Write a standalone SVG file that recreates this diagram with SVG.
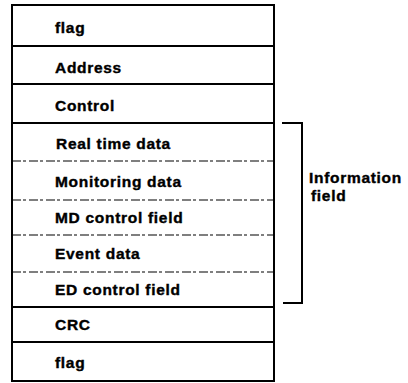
<svg xmlns="http://www.w3.org/2000/svg" width="408" height="383" viewBox="0 0 408 383">
  <style>
    .lbl { font-family: "Liberation Sans", Arial, sans-serif; font-weight: bold; font-size: 15.5px; letter-spacing: 0.7px; fill: #000; stroke: #000; stroke-width: 0.4; }
    .solid { stroke: #000; stroke-width: 2; fill: none; }
    .dash { stroke: #000; stroke-width: 1.2; stroke-dasharray: 9 2 3 3; fill: none; }
  </style>
  <rect width="408" height="383" fill="#fff"/>

  <!-- frame outline -->
  <rect id="frame" class="solid" x="12" y="5" width="262" height="376"/>

  <g id="rows">
    <g id="flag-start"><text class="lbl" x="55" y="33">flag</text></g>
    <line class="solid" x1="12" y1="46" x2="274" y2="46"/>
    <g id="address"><text class="lbl" x="55" y="73">Address</text></g>
    <line class="solid" x1="12" y1="84" x2="274" y2="84"/>
    <g id="control"><text class="lbl" x="55" y="111">Control</text></g>
    <line class="solid" x1="12" y1="123" x2="274" y2="123"/>
    <g id="real-time-data"><text class="lbl" x="56" y="149">Real time data</text></g>
    <line class="dash" x1="12" y1="161" x2="274" y2="161"/>
    <g id="monitoring-data"><text class="lbl" x="55" y="187">Monitoring data</text></g>
    <line class="dash" x1="12" y1="200" x2="274" y2="200"/>
    <g id="md-control-field"><text class="lbl" x="55" y="223">MD control field</text></g>
    <line class="dash" x1="12" y1="235" x2="274" y2="235"/>
    <g id="event-data"><text class="lbl" x="55" y="259">Event data</text></g>
    <line class="dash" x1="12" y1="272" x2="274" y2="272"/>
    <g id="ed-control-field"><text class="lbl" x="55" y="295">ED control field</text></g>
    <line class="solid" x1="12" y1="307" x2="274" y2="307"/>
    <g id="crc"><text class="lbl" x="55" y="330">CRC</text></g>
    <line class="solid" x1="12" y1="342" x2="274" y2="342"/>
    <g id="flag-end"><text class="lbl" x="55" y="368">flag</text></g>
  </g>

  <!-- bracket spanning the information field -->
  <g id="connectors">
    <polyline class="solid" points="282,123 302,123 302,303 283,303"/>
  </g>
  <g id="information-field">
    <text class="lbl" x="309" y="183">Information</text>
    <text class="lbl" x="311" y="201">field</text>
  </g>
</svg>
